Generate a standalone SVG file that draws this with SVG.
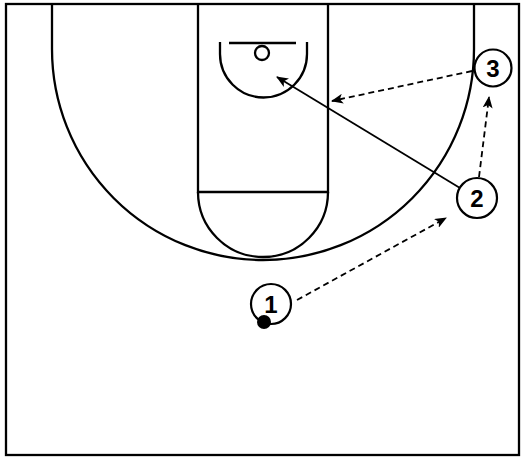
<svg xmlns="http://www.w3.org/2000/svg" width="525" height="458" viewBox="0 0 525 458">
<style>
.court{fill:none;stroke:#000;stroke-width:2.3}
.pl{fill:#fff;stroke:#000;stroke-width:2.2}
.num{font-family:"Liberation Sans",Arial,sans-serif;font-weight:bold;font-size:24px;text-anchor:middle;fill:#000}
.cut{fill:none;stroke:#000;stroke-width:1.8;stroke-dasharray:6 4}
.pass{fill:none;stroke:#000;stroke-width:1.8}
</style>
<defs>
<marker id="ah" markerWidth="12" markerHeight="10" refX="11" refY="5" orient="auto" markerUnits="userSpaceOnUse">
<path d="M0,0 L12,5 L0,10 L3,5 Z" fill="#000"/>
</marker>
</defs>
<rect width="525" height="458" fill="#fff"/>
<g id="court">
<rect class="court" x="6" y="4" width="513" height="451" stroke-width="2.8"/>
<path class="court" d="M52,4 V49 A211,211 0 0 0 474,49 V4"/>
<path class="court" d="M198,4 V192 H328 V4"/>
<path class="court" d="M198,192 A65,65 0 0 0 328,192"/>
<path class="court" d="M220,42 V54 A43.5,43.5 0 0 0 307,54 V42"/>
<line class="court" x1="229" y1="43" x2="296" y2="43"/>
<circle class="court" cx="262" cy="53" r="7"/>
</g>
<g id="connectors">
<line class="cut" x1="297" y1="300" x2="446" y2="218" marker-end="url(#ah)"/>
<line class="pass" x1="460" y1="188" x2="277" y2="77" marker-end="url(#ah)"/>
<line class="cut" x1="472" y1="71" x2="332" y2="101" marker-end="url(#ah)"/>
<line class="cut" x1="479" y1="177" x2="489" y2="97" marker-end="url(#ah)"/>
</g>
<g id="p1">
<circle class="pl" cx="271" cy="304" r="20"/>
<text class="num" x="271" y="313">1</text>
<circle cx="264" cy="322" r="7" fill="#000"/>
</g>
<g id="p2">
<circle class="pl" cx="477" cy="198" r="20"/>
<text class="num" x="477" y="207">2</text>
</g>
<g id="p3">
<circle class="pl" cx="493" cy="68" r="18.5"/>
<text class="num" x="493" y="77">3</text>
</g>
</svg>
